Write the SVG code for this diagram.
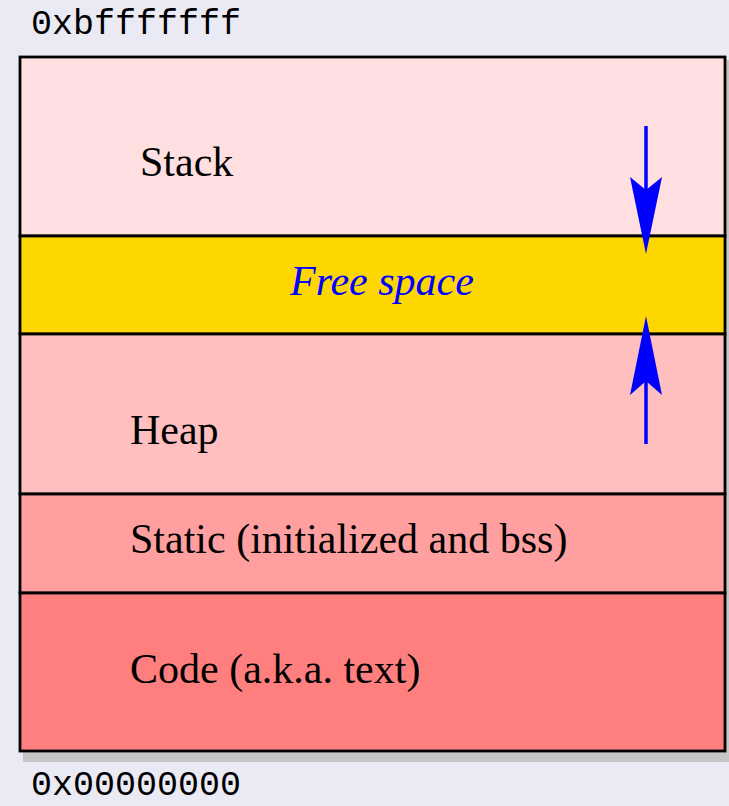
<svg xmlns="http://www.w3.org/2000/svg" width="729" height="806" viewBox="0 0 729 806">
<style>
.seg{stroke:#000;stroke-width:2.8}
.lbl{font-family:"Liberation Serif","Times New Roman",serif;font-size:42px;fill:#000}
.addr{font-family:"Liberation Mono","Courier New",monospace;font-size:35px;fill:#000}
.arr{stroke:#0000ff;stroke-width:3.5;fill:none}
.head{fill:#0000ff}
</style>
<rect width="729" height="806" fill="#eaeaf5"/>
<rect x="23" y="60" width="712" height="702" fill="#c6c6c6"/>
<g id="stack"><rect class="seg" x="20" y="57" width="705" height="179" fill="#ffdfdf"/><text class="lbl" x="140" y="176">Stack</text></g>
<g id="free"><rect class="seg" x="20" y="236" width="705" height="98" fill="#ffd700"/><text class="lbl" x="290" y="295" font-style="italic" style="fill:#0000ff">Free space</text></g>
<g id="heap"><rect class="seg" x="20" y="334" width="705" height="160" fill="#ffbfbf"/><text class="lbl" x="130" y="444">Heap</text></g>
<g id="static"><rect class="seg" x="20" y="494" width="705" height="99" fill="#ff9f9f"/><text class="lbl" x="130" y="553">Static (initialized and bss)</text></g>
<g id="code"><rect class="seg" x="20" y="593" width="705" height="158" fill="#ff7f7f"/><text class="lbl" x="130" y="683">Code (a.k.a. text)</text></g>
<g id="addr-top"><text class="addr" x="31" y="34">0xbfffffff</text></g>
<g id="addr-bottom"><text class="addr" x="31" y="795">0x00000000</text></g>
<g id="connectors">
<line class="arr" x1="646" y1="126" x2="646" y2="195"/>
<polygon class="head" points="646,254 630,177 646,190 662,177"/>
<line class="arr" x1="646" y1="444" x2="646" y2="375"/>
<polygon class="head" points="646,316 630,395 646,381 662,395"/>
</g>
</svg>
